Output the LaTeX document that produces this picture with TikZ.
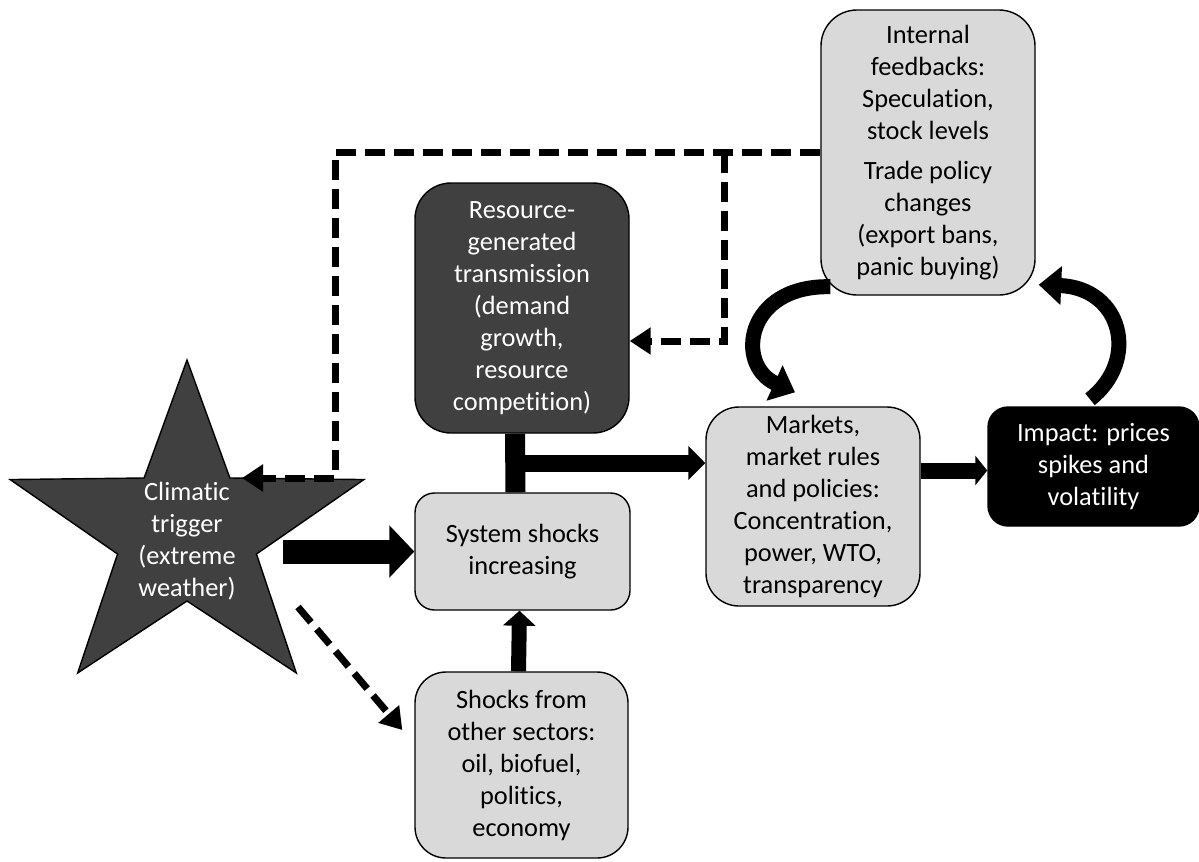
\documentclass[tikz,border=0pt]{standalone}
\usepackage{fontspec}
\setmainfont{Carlito}[Ligatures = NoCommon]
\usetikzlibrary{arrows.meta, calc}
\definecolor{boxgray}{RGB}{217, 217, 217}
\definecolor{resgray}{RGB}{64, 64, 64}
\newcommand{\boxfont}{\fontsize{15pt}{18.2pt}\selectfont}
\tikzset{
  lightbox/.style = {draw, line width = 0.8pt, fill = boxgray, align = center, font = \boxfont, inner sep = 1pt, minimum width = 4.28cm},
  darkbox/.style = {lightbox, fill = resgray, text = white},
  fatarrow/.style = {line width = 0.48cm, -{Triangle[length = 0.5cm, width = 1.02cm]}},
  midarrow/.style = {line width = 0.34cm, -{Triangle[length = 0.34cm, width = 0.66cm]}},
  uparrow/.style = {line width = 0.3cm, -{Triangle[length = 0.3cm, width = 0.64cm]}},
  outarrow/.style = {line width = 0.32cm, -{Triangle[length = 0.24cm, width = 0.58cm]}},
  feedback/.style = {line width = 0.14cm, dash pattern = on 0.4cm off 0.18cm, -{Triangle[length = 0.42cm, width = 0.52cm]}},
  curl/.style = {line width = 0.3cm, -{Triangle[length = 0.45cm, width = 0.75cm]}}
}

\begin{document}
\begin{tikzpicture}
\useasboundingbox (0, 0) rectangle (23.98, -17.22);

% boxes
\node[lightbox, minimum height = 5.7cm, rounded corners = 0.72cm] (internal) at (18.56, -3.05) {Internal\\feedbacks:\\Speculation,\\stock levels\\[4.5pt]Trade policy\\changes\\(export bans,\\panic buying)};
\node[darkbox, minimum height = 5cm, rounded corners = 0.72cm] (resource) at (10.44, -6.16) {Resource-\\generated\\transmission\\(demand\\growth,\\resource\\competition)};
\node[lightbox, minimum width = 4.3cm, minimum height = 2.34cm, rounded corners = 0.39cm] (system) at (10.45, -11.03) {System shocks\\increasing};
\node[lightbox, minimum width = 4.26cm, minimum height = 3.72cm, rounded corners = 0.62cm] (shocks) at (10.43, -15.3) {Shocks from\\other sectors:\\oil, biofuel,\\politics,\\economy};
\node[lightbox, minimum height = 3.98cm, rounded corners = 0.66cm] (markets) at (16.26, -10.13) {Markets,\\market rules\\and policies:\\Concentration,\\power, WTO,\\transparency};
\node[lightbox, fill = black, text = white, minimum width = 4.22cm, minimum height = 2.38cm, rounded corners = 0.4cm] (impact) at (21.87, -9.33) {Impact: prices\\spikes and\\volatility};

% the star
\coordinate (trig-c) at (3.74, -10.66);
\draw[line width = 0.8pt, fill = resgray] (trig-c) +(90:3.72 and 3.46) -- +(126:1.46 and 1.36) -- +(162:3.72 and 3.46) -- +(198:1.46 and 1.36) -- +(234:3.72 and 3.46) -- +(270:1.46 and 1.36) -- +(306:3.72 and 3.46) -- +(342:1.46 and 1.36) -- +(18:3.72 and 3.46) -- +(54:1.46 and 1.36) -- cycle;
\node[text = white, align = center, font = \boxfont] (trigger) at (3.74, -10.82) {Climatic\\trigger\\(extreme\\weather)};

\coordinate (trig-out) at (5.66, -11.03);
\coordinate (trig-in) at (4.84, -9.56);
\coordinate (trig-low) at (5.96, -12.14);
\coordinate (tee) at (10.3, -9.26);
\coordinate (branch) at (14.48, -3.05);

% main chain
\draw[fatarrow] (trig-out) -- (system.west);
\draw[line width = 0.4cm] ([xshift = -0.14cm]resource.south) -- ([xshift = -0.14cm]system.north);
\draw[midarrow] (tee) -- (tee -| markets.west);
\draw[uparrow] ([xshift = -0.06cm]shocks.north) -- ([xshift = -0.06cm]system.south);
\draw[outarrow] ([yshift = -0.08cm]markets.east |- impact.west) -- ([yshift = -0.08cm]impact.west);

% dashed feedbacks
\draw[feedback] (internal.west) -- ++(-9.7, 0) |- (trig-in);
\draw[feedback] (branch) |- ([yshift = -0.66cm]resource.east);
\draw[feedback] (trig-low) -- ([xshift = -0.24cm, yshift = 0.7cm]shocks.west);

% loop between markets, impact and feedbacks
\draw[curl] ([xshift = 0.2cm, yshift = 0.18cm]internal.south west) .. controls (14.9, -5.7) and (14.7, -7.3) .. ([xshift = -0.36cm, yshift = 0.28cm]markets.north);
\draw[curl] ([xshift = -0.07cm, yshift = 0.14cm]impact.north) .. controls (22.8, -7.2) and (22.44, -5.76) .. ([xshift = 0.06cm, yshift = 0.22cm]internal.south east);
\end{tikzpicture}
\end{document}
